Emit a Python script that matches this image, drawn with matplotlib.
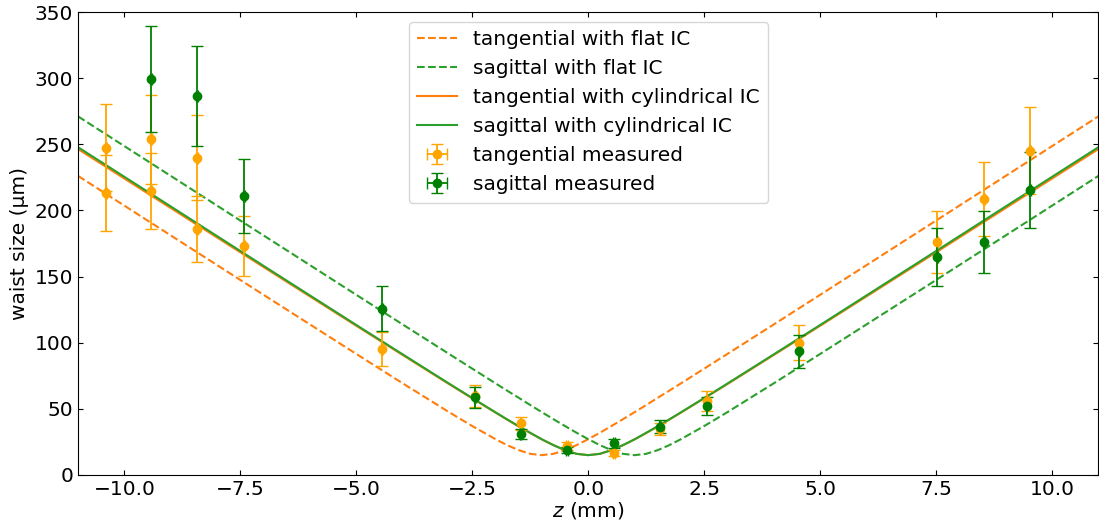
import matplotlib
matplotlib.use("Agg")
import matplotlib.pyplot as plt
import numpy as np

# model curve samples (z in mm, waist in um)
z_curve = [-11, -9, -7, -5, -4, -3, -2.5, -2, -1.75, -1.5, -1.25, -1, -0.75, -0.5, -0.25,
           0, 0.25, 0.5, 0.75, 1, 1.25, 1.5, 1.75, 2, 2.5, 3, 4, 5, 7, 9, 11]
tan_flat = [226.1, 181.1, 136.2, 91.5, 69.3, 47.5, 37.0, 27.1, 22.6, 18.8, 16.0, 15.0, 16.0, 18.8, 22.6,
            27.1, 31.9, 37.0, 42.2, 47.5, 52.9, 58.4, 63.8, 69.3, 80.4, 91.5, 113.8, 136.2, 181.1, 226.1, 271.1]
sag_flat = [271.1, 226.1, 181.1, 136.2, 113.8, 91.5, 80.4, 69.3, 63.8, 58.4, 52.9, 47.5, 42.2, 37.0, 31.9,
            27.1, 22.6, 18.8, 16.0, 15.0, 16.0, 18.8, 22.6, 27.1, 37.0, 47.5, 69.3, 91.5, 136.2, 181.1, 226.1]
tan_cyl = [246.4, 201.8, 157.2, 112.8, 90.7, 68.7, 57.9, 47.2, 41.9, 36.7, 31.7, 26.9, 22.5, 18.7, 16.0,
           15.0, 16.0, 18.7, 22.5, 26.9, 31.7, 36.7, 41.9, 47.2, 57.9, 68.7, 90.7, 112.8, 157.2, 201.8, 246.4]
sag_cyl = [247.8, 203.0, 158.1, 113.4, 91.2, 69.1, 58.2, 47.4, 42.1, 36.9, 31.9, 27.0, 22.6, 18.8, 16.0,
           15.0, 16.0, 18.8, 22.6, 27.0, 31.9, 36.9, 42.1, 47.4, 58.2, 69.1, 91.2, 113.4, 158.1, 203.0, 247.8]

# measured data
tan_z = [-10.4, -10.4, -9.42, -9.42, -8.43, -8.43, -7.42, -4.44, -2.45, -1.46, -0.45, 0.56, 1.55, 2.55,
         4.55, 7.53, 8.54, 9.53]
tan_w = [247.4, 213.2, 253.7, 214.9, 239.8, 186.2, 173.1, 95.2, 59.7, 39.0, 22.2, 16.4, 34.8, 56.2,
         100.0, 176.4, 208.8, 245.1]
tan_err = [33.0, 29.0, 33.8, 28.7, 32.0, 25.0, 23.0, 13.0, 8.0, 5.2, 3.0, 2.2, 4.6, 7.5,
           13.3, 23.4, 28.0, 33.0]
sag_z = [-9.42, -8.43, -7.42, -4.44, -2.45, -1.46, -0.45, 0.56, 1.55, 2.55, 4.55, 7.53, 8.54, 9.53]
sag_w = [299.1, 286.5, 211.1, 125.7, 58.7, 31.0, 18.9, 23.9, 36.5, 52.2, 93.5, 164.8, 176.3, 215.4]
sag_err = [40.0, 38.0, 28.0, 17.0, 8.0, 4.0, 2.5, 3.2, 4.9, 7.0, 12.5, 22.0, 23.5, 29.0]
z_err = 0.02

xticks = [-10.0, -7.5, -5.0, -2.5, 0.0, 2.5, 5.0, 7.5, 10.0]
yticks = [0, 50, 100, 150, 200, 250, 300, 350]

plt.rcParams['font.size'] = 14.5
fig = plt.figure(figsize=(10.99, 5.27), dpi=100)
ax = fig.add_axes([78 / 1099, 52 / 527, 1 - 78 / 1099 - 0.0005, (475 - 12) / 527])

ax.plot(z_curve, tan_flat, '--', color='tab:orange', lw=1.5, label='tangential with flat IC')
ax.plot(z_curve, sag_flat, '--', color='tab:green', lw=1.5, label='sagittal with flat IC')
ax.plot(z_curve, tan_cyl, '-', color='tab:orange', lw=1.5, label='tangential with cylindrical IC')
ax.plot(z_curve, sag_cyl, '-', color='tab:green', lw=1.5, label='sagittal with cylindrical IC')
ax.errorbar(tan_z, tan_w, yerr=tan_err, xerr=z_err, fmt='o', color='orange', ms=6,
            capsize=4.5, elinewidth=1.3, label='tangential measured')
ax.errorbar(sag_z, sag_w, yerr=sag_err, xerr=z_err, fmt='o', color='green', ms=6,
            capsize=4.5, elinewidth=1.3, label='sagittal measured')

ax.set_xlim(-11, 11)
ax.set_ylim(0, 350)
ax.set_xticks(xticks)
ax.set_yticks(yticks)
ax.tick_params(direction='in', top=True, right=True)
ax.set_xlabel('$z$ (mm)', labelpad=1)
ax.set_ylabel('waist size (µm)')
ax.legend(loc='upper center')

fig.savefig('out.png', dpi=100)
